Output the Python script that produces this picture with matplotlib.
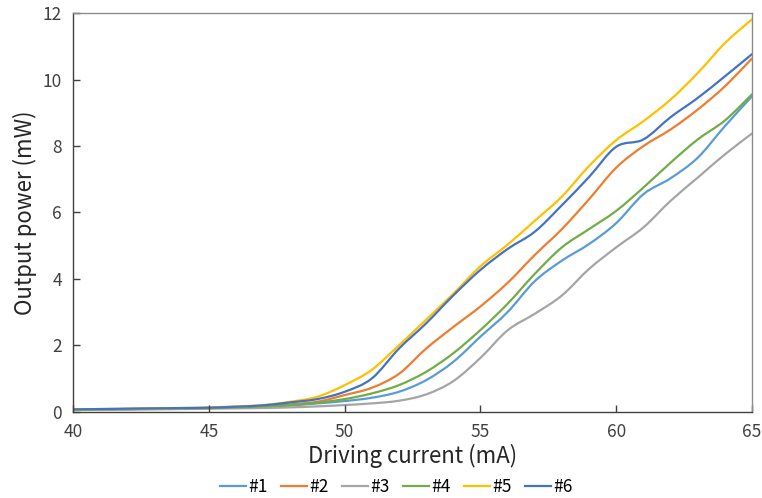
import numpy as np
import matplotlib.pyplot as plt
from matplotlib.path import Path
from matplotlib.patches import PathPatch
from matplotlib.lines import Line2D

plt.rcParams['font.family'] = ['Noto Sans CJK JP', 'DejaVu Sans']

# driving current (mA)
current = list(range(40, 66))

# output power (mW)
p1 = [0.06, 0.07, 0.08, 0.09, 0.10, 0.11, 0.13, 0.15, 0.19, 0.25, 0.32, 0.42, 0.60,
      0.95, 1.50, 2.26, 3.00, 3.93, 4.55, 5.05, 5.68, 6.55, 7.03, 7.65, 8.60, 9.50]
p2 = [0.06, 0.07, 0.08, 0.09, 0.10, 0.11, 0.13, 0.16, 0.22, 0.30, 0.50, 0.72, 1.14,
      1.90, 2.55, 3.17, 3.88, 4.72, 5.50, 6.40, 7.35, 8.00, 8.50, 9.10, 9.80, 10.64]
p3 = [0.05, 0.06, 0.06, 0.07, 0.08, 0.09, 0.10, 0.11, 0.13, 0.16, 0.20, 0.25, 0.33,
      0.52, 0.92, 1.62, 2.45, 2.95, 3.50, 4.30, 4.95, 5.55, 6.35, 7.05, 7.75, 8.38]
p4 = [0.06, 0.07, 0.08, 0.09, 0.10, 0.11, 0.13, 0.16, 0.20, 0.27, 0.38, 0.55, 0.80,
      1.20, 1.76, 2.46, 3.25, 4.15, 4.95, 5.50, 6.05, 6.75, 7.50, 8.20, 8.77, 9.56]
p5 = [0.07, 0.08, 0.09, 0.10, 0.11, 0.13, 0.16, 0.20, 0.30, 0.45, 0.80, 1.26, 2.00,
      2.77, 3.55, 4.38, 5.03, 5.75, 6.48, 7.40, 8.18, 8.75, 9.40, 10.20, 11.10, 11.82]
p6 = [0.07, 0.08, 0.09, 0.10, 0.11, 0.12, 0.15, 0.19, 0.28, 0.38, 0.60, 1.00, 1.90,
      2.66, 3.50, 4.27, 4.90, 5.42, 6.22, 7.07, 7.98, 8.20, 8.87, 9.45, 10.10, 10.77]

labels = ['#1', '#2', '#3', '#4', '#5', '#6']
colors = ['#5B9BD5', '#ED7D31', '#A5A5A5', '#70AD47', '#FFC000', '#4472C4']
series = [p1, p2, p3, p4, p5, p6]


def smooth_path(x, y):
    # Catmull-Rom style bezier through the points, like a smoothed line
    x = np.asarray(x, float)
    y = np.asarray(y, float)
    verts = [(x[0], y[0])]
    codes = [Path.MOVETO]
    n = len(x)
    for i in range(n - 1):
        i0 = max(i - 1, 0)
        i3 = min(i + 2, n - 1)
        c1 = (x[i] + (x[i + 1] - x[i0]) / 6, y[i] + (y[i + 1] - y[i0]) / 6)
        c2 = (x[i + 1] - (x[i3] - x[i]) / 6, y[i + 1] - (y[i3] - y[i]) / 6)
        verts += [c1, c2, (x[i + 1], y[i + 1])]
        codes += [Path.CURVE4] * 3
    return Path(verts, codes)


fig = plt.figure(figsize=(7.62, 4.98), dpi=100)
ax = fig.add_axes([0.0958, 0.1733, 0.8911, 0.80])

handles = []
for vals, col, lab in zip(series, colors, labels):
    patch = PathPatch(smooth_path(current, vals), facecolor='none', edgecolor=col,
                      lw=1.6, capstyle='round', joinstyle='round')
    ax.add_patch(patch)
    handles.append(Line2D([], [], color=col, lw=1.6, label=lab))

ax.set_xlim(40, 65)
ax.set_ylim(0, 12)
ax.set_xticks([40, 45, 50, 55, 60, 65])
ax.set_yticks([0, 2, 4, 6, 8, 10, 12])

for side in ['left', 'bottom']:
    ax.spines[side].set_color('#404040')
for side in ['top', 'right']:
    ax.spines[side].set_color('#8c8c8c')
for s in ax.spines.values():
    s.set_linewidth(1.0)

ax.tick_params(direction='in', length=5, width=1, colors='#404040',
               labelsize=12.5, labelcolor='#404040')
ax.tick_params(axis='x', pad=8)
ax.tick_params(axis='y', pad=8)

ax.set_xlabel('Driving current (mA)', fontsize=16, color='#262626', labelpad=2)
ax.set_ylabel('Output power (mW)', fontsize=16, color='#262626', labelpad=4)

fig.legend(handles=handles, loc='center', bbox_to_anchor=(0.52, 0.022), ncol=6,
           frameon=False, fontsize=12.5, handlelength=1.5, handletextpad=0.1,
           columnspacing=0.8)

fig.savefig('out.png', dpi=100)
